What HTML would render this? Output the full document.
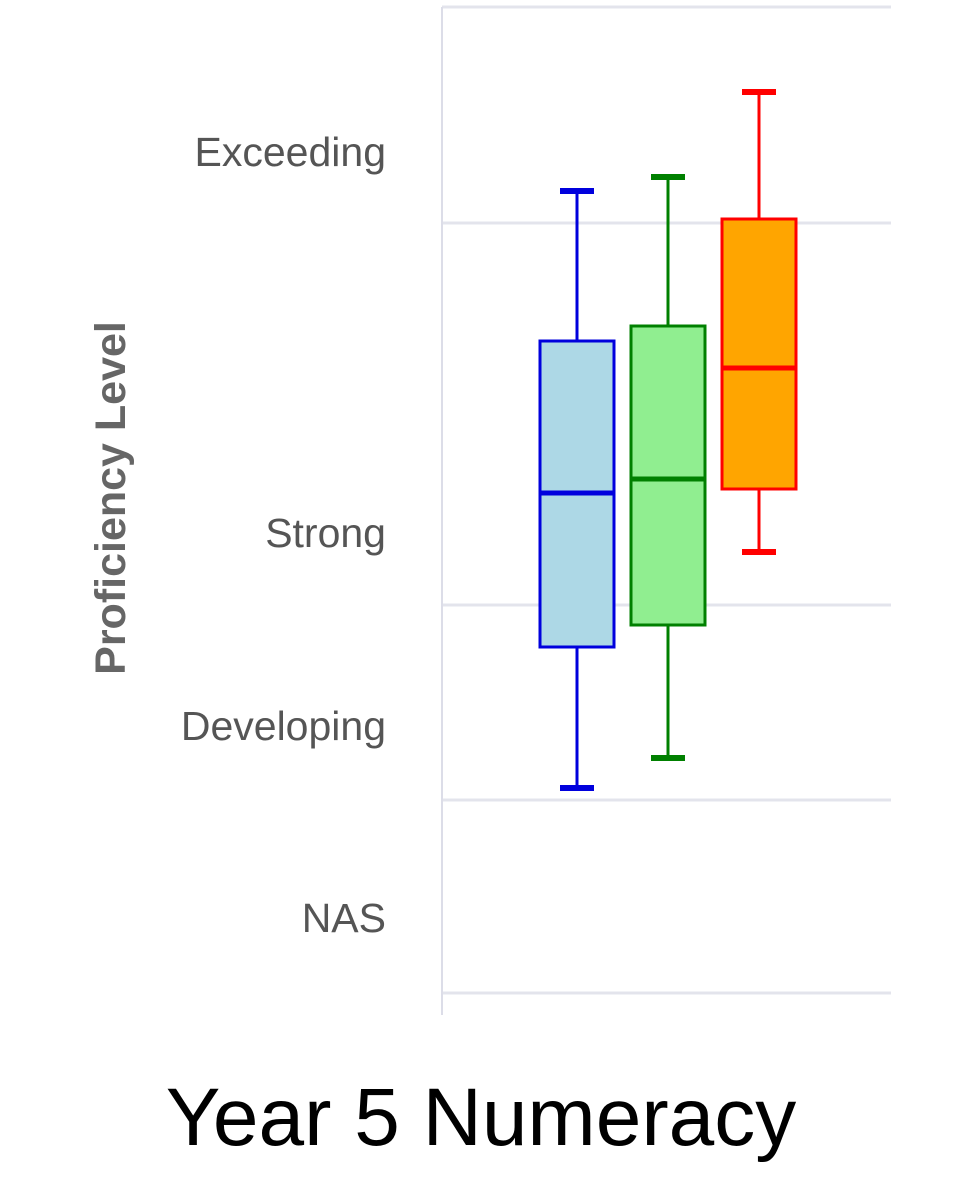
<!DOCTYPE html>
<html><head><meta charset="utf-8"><style>
html,body{margin:0;padding:0;background:#fff;width:960px;height:1200px;overflow:hidden}
svg{display:block}
</style></head><body>
<svg id="chart" width="960" height="1200" xmlns="http://www.w3.org/2000/svg" font-family="'Liberation Sans', sans-serif">
<g id="grid"></g>
<line x1="442" y1="7" x2="442" y2="1015" stroke="#dcdde8" stroke-width="2"/>
<g id="ticks"></g>
<g id="boxes"></g>
<text transform="translate(125,498) rotate(-90)" text-anchor="middle" font-size="43" font-weight="bold" fill="#666">Proficiency Level</text>
<text x="481" y="1145" text-anchor="middle" font-size="82" fill="#000">Year 5 Numeracy</text>
</svg>
<script>
const gridValues = [0, 193, 388, 770, 986];
const tickValues = [75, 267, 460, 841];
const tickLabels = ["NAS", "Developing", "Strong", "Exceeding"];
const seriesNames = ["group-a", "group-b", "group-c"];
const mins = [205, 235, 441];
const q1s = [346, 368, 504];
const medians = [500, 514, 625];
const q3s = [652, 667, 774];
const maxs = [802, 816, 901];
const fills = ["#add8e6", "#90ee90", "#ffa500"];
const strokes = ["#0000dd", "#008000", "#ff0000"];
const NS = "http://www.w3.org/2000/svg";
function y(v){ return 993 - v; }
function xc(i){ return 577 + i * 91; }
const grid = document.getElementById('grid');
gridValues.forEach((v,i)=>{
  const l = document.createElementNS(NS,'line');
  
  
  l.setAttribute('x1', 442); l.setAttribute('x2', 891);
  l.setAttribute('y1', y(v)); l.setAttribute('y2', y(v));
  l.setAttribute('stroke', '#e3e4ec'); l.setAttribute('stroke-width', 3);
  grid.appendChild(l);
});
const ticks = document.getElementById('ticks');
tickValues.forEach((v,i)=>{
  const t = document.createElementNS(NS,'text');
  
  
  t.setAttribute('x', 386); t.setAttribute('y', y(v) + 14);
  t.setAttribute('text-anchor','end'); t.setAttribute('font-size', 41);
  t.setAttribute('fill', '#555');
  t.textContent = tickLabels[i];
  ticks.appendChild(t);
});
const boxes = document.getElementById('boxes');
seriesNames.forEach((n,i)=>{
  const g = document.createElementNS(NS,'g');
  
  
  const cx = xc(i), s = strokes[i], hw = 37, cw = 17;
  const mk = (tag, attrs, name) => {
    const e = document.createElementNS(NS, tag);
    for (const k in attrs) e.setAttribute(k, attrs[k]);
    
    
    g.appendChild(e);
  };
  mk('line',{x1:cx,x2:cx,y1:y(maxs[i]),y2:y(q3s[i]),stroke:s,'stroke-width':3},'upper-whisker');
  mk('line',{x1:cx,x2:cx,y1:y(q1s[i]),y2:y(mins[i]),stroke:s,'stroke-width':3},'lower-whisker');
  mk('line',{x1:cx-cw,x2:cx+cw,y1:y(maxs[i]),y2:y(maxs[i]),stroke:s,'stroke-width':6},'max-cap');
  mk('line',{x1:cx-cw,x2:cx+cw,y1:y(mins[i]),y2:y(mins[i]),stroke:s,'stroke-width':6},'min-cap');
  mk('rect',{x:cx-hw,y:y(q3s[i]),width:hw*2,height:y(q1s[i])-y(q3s[i]),fill:fills[i],stroke:s,'stroke-width':3},'iqr-box');
  mk('line',{x1:cx-hw,x2:cx+hw,y1:y(medians[i]),y2:y(medians[i]),stroke:s,'stroke-width':5},'median-line');
  boxes.appendChild(g);
});
</script>
</body></html>
